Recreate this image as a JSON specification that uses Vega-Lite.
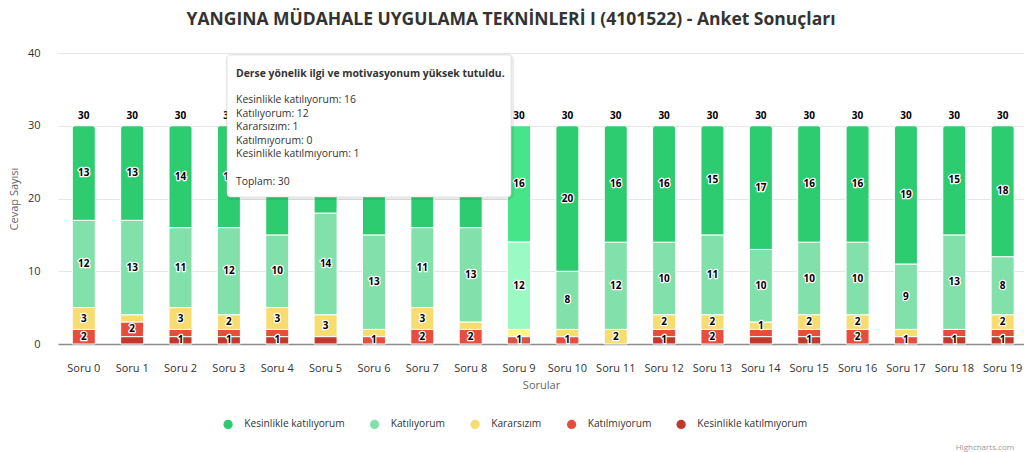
{
  "$schema": "https://vega.github.io/schema/vega-lite/v6.json",
  "width": 966,
  "height": 291,
  "autosize": {"type": "none"},
  "padding": {"left": 58, "top": 53, "right": 0, "bottom": 108},
  "background": "#ffffff",
  "title": {
    "text": "YANGINA MÜDAHALE UYGULAMA TEKNİNLERİ I (4101522) - Anket Sonuçları",
    "font": "Open Sans",
    "fontSize": 17.5,
    "fontWeight": "bold",
    "color": "#333333",
    "anchor": "middle",
    "dx": -30,
    "offset": 19
  },
  "config": {
    "view": {"stroke": null},
    "font": "Open Sans",
    "axisX": {
      "labelAngle": 0,
      "labelFont": "Open Sans",
      "labelFontSize": 11,
      "labelColor": "#333333",
      "labelPadding": 18,
      "ticks": false,
      "tickSize": 0,
      "domainColor": "#8c8c8c",
      "domainWidth": 1.5,
      "grid": false,
      "titleFont": "Open Sans",
      "titleFontSize": 11,
      "titleFontWeight": "normal",
      "titleColor": "#666666",
      "titlePadding": 6
    },
    "axisY": {
      "labelFont": "Open Sans",
      "labelFontSize": 11,
      "labelColor": "#333333",
      "labelPadding": 18,
      "ticks": false,
      "tickSize": 0,
      "domain": false,
      "grid": true,
      "gridColor": "#e6e6e6",
      "gridWidth": 1,
      "titleFont": "Open Sans",
      "titleFontSize": 11,
      "titleFontWeight": "normal",
      "titleColor": "#666666",
      "titlePadding": 8
    },
    "legend": {
      "labelFont": "Open Sans",
      "labelFontSize": 10.2,
      "labelColor": "#333333"
    }
  },
  "datasets": {
    "cevaplar": [
      {"soru": "Soru 0", "kategori": "Kesinlikle katılıyorum", "sira": 5, "sayi": 13, "etiket": true},
      {"soru": "Soru 0", "kategori": "Katılıyorum", "sira": 4, "sayi": 12, "etiket": true},
      {"soru": "Soru 0", "kategori": "Kararsızım", "sira": 3, "sayi": 3, "etiket": true},
      {"soru": "Soru 0", "kategori": "Katılmıyorum", "sira": 2, "sayi": 2, "etiket": true},
      {"soru": "Soru 0", "kategori": "Kesinlikle katılmıyorum", "sira": 1, "sayi": 0, "etiket": false},
      {"soru": "Soru 1", "kategori": "Kesinlikle katılıyorum", "sira": 5, "sayi": 13, "etiket": true},
      {"soru": "Soru 1", "kategori": "Katılıyorum", "sira": 4, "sayi": 13, "etiket": true},
      {"soru": "Soru 1", "kategori": "Kararsızım", "sira": 3, "sayi": 1, "etiket": false},
      {"soru": "Soru 1", "kategori": "Katılmıyorum", "sira": 2, "sayi": 2, "etiket": true},
      {"soru": "Soru 1", "kategori": "Kesinlikle katılmıyorum", "sira": 1, "sayi": 1, "etiket": false},
      {"soru": "Soru 2", "kategori": "Kesinlikle katılıyorum", "sira": 5, "sayi": 14, "etiket": true},
      {"soru": "Soru 2", "kategori": "Katılıyorum", "sira": 4, "sayi": 11, "etiket": true},
      {"soru": "Soru 2", "kategori": "Kararsızım", "sira": 3, "sayi": 3, "etiket": true},
      {"soru": "Soru 2", "kategori": "Katılmıyorum", "sira": 2, "sayi": 1, "etiket": false},
      {"soru": "Soru 2", "kategori": "Kesinlikle katılmıyorum", "sira": 1, "sayi": 1, "etiket": true},
      {"soru": "Soru 3", "kategori": "Kesinlikle katılıyorum", "sira": 5, "sayi": 14, "etiket": true},
      {"soru": "Soru 3", "kategori": "Katılıyorum", "sira": 4, "sayi": 12, "etiket": true},
      {"soru": "Soru 3", "kategori": "Kararsızım", "sira": 3, "sayi": 2, "etiket": true},
      {"soru": "Soru 3", "kategori": "Katılmıyorum", "sira": 2, "sayi": 1, "etiket": false},
      {"soru": "Soru 3", "kategori": "Kesinlikle katılmıyorum", "sira": 1, "sayi": 1, "etiket": true},
      {"soru": "Soru 4", "kategori": "Kesinlikle katılıyorum", "sira": 5, "sayi": 15, "etiket": true},
      {"soru": "Soru 4", "kategori": "Katılıyorum", "sira": 4, "sayi": 10, "etiket": true},
      {"soru": "Soru 4", "kategori": "Kararsızım", "sira": 3, "sayi": 3, "etiket": true},
      {"soru": "Soru 4", "kategori": "Katılmıyorum", "sira": 2, "sayi": 1, "etiket": false},
      {"soru": "Soru 4", "kategori": "Kesinlikle katılmıyorum", "sira": 1, "sayi": 1, "etiket": true},
      {"soru": "Soru 5", "kategori": "Kesinlikle katılıyorum", "sira": 5, "sayi": 12, "etiket": true},
      {"soru": "Soru 5", "kategori": "Katılıyorum", "sira": 4, "sayi": 14, "etiket": true},
      {"soru": "Soru 5", "kategori": "Kararsızım", "sira": 3, "sayi": 3, "etiket": true},
      {"soru": "Soru 5", "kategori": "Katılmıyorum", "sira": 2, "sayi": 0, "etiket": false},
      {"soru": "Soru 5", "kategori": "Kesinlikle katılmıyorum", "sira": 1, "sayi": 1, "etiket": false},
      {"soru": "Soru 6", "kategori": "Kesinlikle katılıyorum", "sira": 5, "sayi": 15, "etiket": true},
      {"soru": "Soru 6", "kategori": "Katılıyorum", "sira": 4, "sayi": 13, "etiket": true},
      {"soru": "Soru 6", "kategori": "Kararsızım", "sira": 3, "sayi": 1, "etiket": false},
      {"soru": "Soru 6", "kategori": "Katılmıyorum", "sira": 2, "sayi": 1, "etiket": true},
      {"soru": "Soru 6", "kategori": "Kesinlikle katılmıyorum", "sira": 1, "sayi": 0, "etiket": false},
      {"soru": "Soru 7", "kategori": "Kesinlikle katılıyorum", "sira": 5, "sayi": 14, "etiket": true},
      {"soru": "Soru 7", "kategori": "Katılıyorum", "sira": 4, "sayi": 11, "etiket": true},
      {"soru": "Soru 7", "kategori": "Kararsızım", "sira": 3, "sayi": 3, "etiket": true},
      {"soru": "Soru 7", "kategori": "Katılmıyorum", "sira": 2, "sayi": 2, "etiket": true},
      {"soru": "Soru 7", "kategori": "Kesinlikle katılmıyorum", "sira": 1, "sayi": 0, "etiket": false},
      {"soru": "Soru 8", "kategori": "Kesinlikle katılıyorum", "sira": 5, "sayi": 14, "etiket": true},
      {"soru": "Soru 8", "kategori": "Katılıyorum", "sira": 4, "sayi": 13, "etiket": true},
      {"soru": "Soru 8", "kategori": "Kararsızım", "sira": 3, "sayi": 1, "etiket": false},
      {"soru": "Soru 8", "kategori": "Katılmıyorum", "sira": 2, "sayi": 2, "etiket": true},
      {"soru": "Soru 8", "kategori": "Kesinlikle katılmıyorum", "sira": 1, "sayi": 0, "etiket": false},
      {"soru": "Soru 9", "kategori": "Kesinlikle katılıyorum", "sira": 5, "sayi": 16, "etiket": true},
      {"soru": "Soru 9", "kategori": "Katılıyorum", "sira": 4, "sayi": 12, "etiket": true},
      {"soru": "Soru 9", "kategori": "Kararsızım", "sira": 3, "sayi": 1, "etiket": false},
      {"soru": "Soru 9", "kategori": "Katılmıyorum", "sira": 2, "sayi": 0, "etiket": false},
      {"soru": "Soru 9", "kategori": "Kesinlikle katılmıyorum", "sira": 1, "sayi": 1, "etiket": true},
      {"soru": "Soru 10", "kategori": "Kesinlikle katılıyorum", "sira": 5, "sayi": 20, "etiket": true},
      {"soru": "Soru 10", "kategori": "Katılıyorum", "sira": 4, "sayi": 8, "etiket": true},
      {"soru": "Soru 10", "kategori": "Kararsızım", "sira": 3, "sayi": 1, "etiket": false},
      {"soru": "Soru 10", "kategori": "Katılmıyorum", "sira": 2, "sayi": 1, "etiket": true},
      {"soru": "Soru 10", "kategori": "Kesinlikle katılmıyorum", "sira": 1, "sayi": 0, "etiket": false},
      {"soru": "Soru 11", "kategori": "Kesinlikle katılıyorum", "sira": 5, "sayi": 16, "etiket": true},
      {"soru": "Soru 11", "kategori": "Katılıyorum", "sira": 4, "sayi": 12, "etiket": true},
      {"soru": "Soru 11", "kategori": "Kararsızım", "sira": 3, "sayi": 2, "etiket": true},
      {"soru": "Soru 11", "kategori": "Katılmıyorum", "sira": 2, "sayi": 0, "etiket": false},
      {"soru": "Soru 11", "kategori": "Kesinlikle katılmıyorum", "sira": 1, "sayi": 0, "etiket": false},
      {"soru": "Soru 12", "kategori": "Kesinlikle katılıyorum", "sira": 5, "sayi": 16, "etiket": true},
      {"soru": "Soru 12", "kategori": "Katılıyorum", "sira": 4, "sayi": 10, "etiket": true},
      {"soru": "Soru 12", "kategori": "Kararsızım", "sira": 3, "sayi": 2, "etiket": true},
      {"soru": "Soru 12", "kategori": "Katılmıyorum", "sira": 2, "sayi": 1, "etiket": false},
      {"soru": "Soru 12", "kategori": "Kesinlikle katılmıyorum", "sira": 1, "sayi": 1, "etiket": true},
      {"soru": "Soru 13", "kategori": "Kesinlikle katılıyorum", "sira": 5, "sayi": 15, "etiket": true},
      {"soru": "Soru 13", "kategori": "Katılıyorum", "sira": 4, "sayi": 11, "etiket": true},
      {"soru": "Soru 13", "kategori": "Kararsızım", "sira": 3, "sayi": 2, "etiket": true},
      {"soru": "Soru 13", "kategori": "Katılmıyorum", "sira": 2, "sayi": 2, "etiket": true},
      {"soru": "Soru 13", "kategori": "Kesinlikle katılmıyorum", "sira": 1, "sayi": 0, "etiket": false},
      {"soru": "Soru 14", "kategori": "Kesinlikle katılıyorum", "sira": 5, "sayi": 17, "etiket": true},
      {"soru": "Soru 14", "kategori": "Katılıyorum", "sira": 4, "sayi": 10, "etiket": true},
      {"soru": "Soru 14", "kategori": "Kararsızım", "sira": 3, "sayi": 1, "etiket": true},
      {"soru": "Soru 14", "kategori": "Katılmıyorum", "sira": 2, "sayi": 1, "etiket": false},
      {"soru": "Soru 14", "kategori": "Kesinlikle katılmıyorum", "sira": 1, "sayi": 1, "etiket": false},
      {"soru": "Soru 15", "kategori": "Kesinlikle katılıyorum", "sira": 5, "sayi": 16, "etiket": true},
      {"soru": "Soru 15", "kategori": "Katılıyorum", "sira": 4, "sayi": 10, "etiket": true},
      {"soru": "Soru 15", "kategori": "Kararsızım", "sira": 3, "sayi": 2, "etiket": true},
      {"soru": "Soru 15", "kategori": "Katılmıyorum", "sira": 2, "sayi": 1, "etiket": false},
      {"soru": "Soru 15", "kategori": "Kesinlikle katılmıyorum", "sira": 1, "sayi": 1, "etiket": true},
      {"soru": "Soru 16", "kategori": "Kesinlikle katılıyorum", "sira": 5, "sayi": 16, "etiket": true},
      {"soru": "Soru 16", "kategori": "Katılıyorum", "sira": 4, "sayi": 10, "etiket": true},
      {"soru": "Soru 16", "kategori": "Kararsızım", "sira": 3, "sayi": 2, "etiket": true},
      {"soru": "Soru 16", "kategori": "Katılmıyorum", "sira": 2, "sayi": 2, "etiket": true},
      {"soru": "Soru 16", "kategori": "Kesinlikle katılmıyorum", "sira": 1, "sayi": 0, "etiket": false},
      {"soru": "Soru 17", "kategori": "Kesinlikle katılıyorum", "sira": 5, "sayi": 19, "etiket": true},
      {"soru": "Soru 17", "kategori": "Katılıyorum", "sira": 4, "sayi": 9, "etiket": true},
      {"soru": "Soru 17", "kategori": "Kararsızım", "sira": 3, "sayi": 1, "etiket": false},
      {"soru": "Soru 17", "kategori": "Katılmıyorum", "sira": 2, "sayi": 1, "etiket": true},
      {"soru": "Soru 17", "kategori": "Kesinlikle katılmıyorum", "sira": 1, "sayi": 0, "etiket": false},
      {"soru": "Soru 18", "kategori": "Kesinlikle katılıyorum", "sira": 5, "sayi": 15, "etiket": true},
      {"soru": "Soru 18", "kategori": "Katılıyorum", "sira": 4, "sayi": 13, "etiket": true},
      {"soru": "Soru 18", "kategori": "Kararsızım", "sira": 3, "sayi": 0, "etiket": false},
      {"soru": "Soru 18", "kategori": "Katılmıyorum", "sira": 2, "sayi": 1, "etiket": false},
      {"soru": "Soru 18", "kategori": "Kesinlikle katılmıyorum", "sira": 1, "sayi": 1, "etiket": true},
      {"soru": "Soru 19", "kategori": "Kesinlikle katılıyorum", "sira": 5, "sayi": 18, "etiket": true},
      {"soru": "Soru 19", "kategori": "Katılıyorum", "sira": 4, "sayi": 8, "etiket": true},
      {"soru": "Soru 19", "kategori": "Kararsızım", "sira": 3, "sayi": 2, "etiket": true},
      {"soru": "Soru 19", "kategori": "Katılmıyorum", "sira": 2, "sayi": 1, "etiket": false},
      {"soru": "Soru 19", "kategori": "Kesinlikle katılmıyorum", "sira": 1, "sayi": 1, "etiket": true}
    ],
    "ipucu": [
      {
        "baslik": "Derse yönelik ilgi ve motivasyonum yüksek tutuldu.",
        "satir1": "Kesinlikle katılıyorum: 16",
        "satir2": "Katılıyorum: 12",
        "satir3": "Kararsızım: 1",
        "satir4": "Katılmıyorum: 0",
        "satir5": "Kesinlikle katılmıyorum: 1",
        "toplam": "Toplam: 30"
      }
    ],
    "kredi": [{"metin": "Highcharts.com"}]
  },
  "layer": [
    {
      "data": {"name": "cevaplar"},
      "transform": [
        {"stack": "sayi", "groupby": ["soru"], "sort": [{"field": "sira", "order": "ascending"}], "as": ["y0", "y1"]},
        {"filter": "datum.sayi > 0 && datum.sira < 5 && datum.soru !== 'Soru 9'"}
      ],
      "mark": {"type": "bar", "stroke": "#ffffff", "strokeWidth": 1},
      "encoding": {
        "x": {
          "field": "soru",
          "type": "nominal",
          "title": "Sorular",
          "scale": {
            "domain": ["Soru 0", "Soru 1", "Soru 2", "Soru 3", "Soru 4", "Soru 5", "Soru 6", "Soru 7", "Soru 8", "Soru 9", "Soru 10", "Soru 11", "Soru 12", "Soru 13", "Soru 14", "Soru 15", "Soru 16", "Soru 17", "Soru 18", "Soru 19"],
            "paddingInner": 0.5244,
            "paddingOuter": 0.2497,
            "align": 0.592
          }
        },
        "y": {
          "field": "y1",
          "type": "quantitative",
          "title": "Cevap Sayısı",
          "scale": {"domain": [0, 40], "nice": false},
          "axis": {"values": [0, 10, 20, 30, 40]}
        },
        "y2": {"field": "y0"},
        "color": {
          "field": "kategori",
          "type": "nominal",
          "scale": {
            "domain": ["Kesinlikle katılıyorum", "Katılıyorum", "Kararsızım", "Katılmıyorum", "Kesinlikle katılmıyorum"],
            "range": ["#2ecc71", "#82e0aa", "#f7dc6f", "#e74c3c", "#c0392b"]
          },
          "legend": {
            "title": null,
            "orient": "none",
            "direction": "horizontal",
            "legendX": 165,
            "legendY": 366,
            "symbolType": "circle",
            "symbolSize": 85,
            "symbolStrokeWidth": 0,
            "labelOffset": 11,
            "columnPadding": 24.5
          }
        }
      }
    },
    {
      "data": {"name": "cevaplar"},
      "transform": [
        {"stack": "sayi", "groupby": ["soru"], "sort": [{"field": "sira", "order": "ascending"}], "as": ["y0", "y1"]},
        {"filter": "datum.sayi > 0 && datum.sira === 5 && datum.soru !== 'Soru 9'"}
      ],
      "mark": {"type": "bar", "stroke": "#ffffff", "strokeWidth": 1, "cornerRadiusTopLeft": 3, "cornerRadiusTopRight": 3},
      "encoding": {
        "x": {"field": "soru", "type": "nominal"},
        "y": {"field": "y1", "type": "quantitative"},
        "y2": {"field": "y0"},
        "color": {"field": "kategori", "type": "nominal"}
      }
    },
    {
      "data": {"name": "cevaplar"},
      "transform": [
        {"stack": "sayi", "groupby": ["soru"], "sort": [{"field": "sira", "order": "ascending"}], "as": ["y0", "y1"]},
        {"filter": "datum.sayi > 0 && datum.soru === 'Soru 9'"}
      ],
      "mark": {"type": "bar", "stroke": "#ffffff", "strokeWidth": 1},
      "encoding": {
        "x": {"field": "soru", "type": "nominal"},
        "y": {"field": "y1", "type": "quantitative"},
        "y2": {"field": "y0"},
        "fill": {
          "field": "kategori",
          "type": "nominal",
          "scale": {
            "domain": ["Kesinlikle katılıyorum", "Katılıyorum", "Kararsızım", "Katılmıyorum", "Kesinlikle katılmıyorum"],
            "range": ["#47e58a", "#9bf9c3", "#fff588", "#ff6555", "#d95244"]
          },
          "legend": null
        }
      }
    },
    {
      "data": {"name": "cevaplar"},
      "transform": [
        {"stack": "sayi", "groupby": ["soru"], "sort": [{"field": "sira", "order": "ascending"}], "as": ["y0", "y1"]},
        {"filter": "datum.etiket && datum.sayi > 0"},
        {"calculate": "(datum.y0 + datum.y1) / 2", "as": "orta"}
      ],
      "mark": {"type": "text", "font": "Open Sans", "fontSize": 10, "fontWeight": "bold", "fill": "#ffffff", "stroke": "#ffffff", "strokeWidth": 2.5, "strokeJoin": "round", "baseline": "middle", "align": "center"},
      "encoding": {
        "x": {"field": "soru", "type": "nominal"},
        "y": {"field": "orta", "type": "quantitative"},
        "text": {"field": "sayi", "type": "quantitative"}
      }
    },
    {
      "data": {"name": "cevaplar"},
      "transform": [
        {"stack": "sayi", "groupby": ["soru"], "sort": [{"field": "sira", "order": "ascending"}], "as": ["y0", "y1"]},
        {"filter": "datum.etiket && datum.sayi > 0"},
        {"calculate": "(datum.y0 + datum.y1) / 2", "as": "orta"}
      ],
      "mark": {"type": "text", "font": "Open Sans", "fontSize": 10, "fontWeight": "bold", "fill": "#000000", "baseline": "middle", "align": "center"},
      "encoding": {
        "x": {"field": "soru", "type": "nominal"},
        "y": {"field": "orta", "type": "quantitative"},
        "text": {"field": "sayi", "type": "quantitative"}
      }
    },
    {
      "data": {"name": "cevaplar"},
      "transform": [
        {"aggregate": [{"op": "sum", "field": "sayi", "as": "toplam"}], "groupby": ["soru"]}
      ],
      "mark": {"type": "text", "font": "Open Sans", "fontSize": 10, "fontWeight": "bold", "fill": "#000000", "baseline": "middle", "align": "center", "dy": -10},
      "encoding": {
        "x": {"field": "soru", "type": "nominal"},
        "y": {"field": "toplam", "type": "quantitative"},
        "text": {"field": "toplam", "type": "quantitative"}
      }
    },
    {
      "data": {"name": "ipucu"},
      "mark": {"type": "rect", "cornerRadius": 4, "fill": null, "stroke": "#000000", "strokeOpacity": 0.08, "strokeWidth": 4, "xOffset": 1, "x2Offset": 1, "yOffset": 1, "y2Offset": 1},
      "encoding": {
        "x": {"datum": "Soru 3", "type": "nominal", "bandPosition": 0.42},
        "x2": {"datum": "Soru 9", "bandPosition": 0.15},
        "y": {"datum": 39.725, "type": "quantitative"},
        "y2": {"datum": 20.21}
      }
    },
    {
      "data": {"name": "ipucu"},
      "mark": {"type": "rect", "cornerRadius": 3, "fill": "#ffffff", "stroke": "#d9d9d9", "strokeWidth": 0.6},
      "encoding": {
        "x": {"datum": "Soru 3", "type": "nominal", "bandPosition": 0.42},
        "x2": {"datum": "Soru 9", "bandPosition": 0.15},
        "y": {"datum": 39.725, "type": "quantitative"},
        "y2": {"datum": 20.21}
      }
    },
    {
      "data": {"name": "ipucu"},
      "mark": {"type": "text", "font": "Open Sans", "fontSize": 10.4, "fontWeight": "bold", "fill": "#333333", "align": "left", "baseline": "alphabetic", "dx": 9, "dy": 22},
      "encoding": {
        "x": {"datum": "Soru 3", "type": "nominal", "bandPosition": 0.42},
        "y": {"datum": 39.725, "type": "quantitative"},
        "text": {"field": "baslik", "type": "nominal"}
      }
    },
    {
      "data": {"name": "ipucu"},
      "mark": {"type": "text", "font": "Open Sans", "fontSize": 10.4, "fill": "#333333", "align": "left", "baseline": "alphabetic", "dx": 9, "dy": 48},
      "encoding": {
        "x": {"datum": "Soru 3", "type": "nominal", "bandPosition": 0.42},
        "y": {"datum": 39.725, "type": "quantitative"},
        "text": {"field": "satir1", "type": "nominal"}
      }
    },
    {
      "data": {"name": "ipucu"},
      "mark": {"type": "text", "font": "Open Sans", "fontSize": 10.4, "fill": "#333333", "align": "left", "baseline": "alphabetic", "dx": 9, "dy": 61.6},
      "encoding": {
        "x": {"datum": "Soru 3", "type": "nominal", "bandPosition": 0.42},
        "y": {"datum": 39.725, "type": "quantitative"},
        "text": {"field": "satir2", "type": "nominal"}
      }
    },
    {
      "data": {"name": "ipucu"},
      "mark": {"type": "text", "font": "Open Sans", "fontSize": 10.4, "fill": "#333333", "align": "left", "baseline": "alphabetic", "dx": 9, "dy": 75.2},
      "encoding": {
        "x": {"datum": "Soru 3", "type": "nominal", "bandPosition": 0.42},
        "y": {"datum": 39.725, "type": "quantitative"},
        "text": {"field": "satir3", "type": "nominal"}
      }
    },
    {
      "data": {"name": "ipucu"},
      "mark": {"type": "text", "font": "Open Sans", "fontSize": 10.4, "fill": "#333333", "align": "left", "baseline": "alphabetic", "dx": 9, "dy": 88.8},
      "encoding": {
        "x": {"datum": "Soru 3", "type": "nominal", "bandPosition": 0.42},
        "y": {"datum": 39.725, "type": "quantitative"},
        "text": {"field": "satir4", "type": "nominal"}
      }
    },
    {
      "data": {"name": "ipucu"},
      "mark": {"type": "text", "font": "Open Sans", "fontSize": 10.4, "fill": "#333333", "align": "left", "baseline": "alphabetic", "dx": 9, "dy": 102.4},
      "encoding": {
        "x": {"datum": "Soru 3", "type": "nominal", "bandPosition": 0.42},
        "y": {"datum": 39.725, "type": "quantitative"},
        "text": {"field": "satir5", "type": "nominal"}
      }
    },
    {
      "data": {"name": "ipucu"},
      "mark": {"type": "text", "font": "Open Sans", "fontSize": 10.4, "fill": "#333333", "align": "left", "baseline": "alphabetic", "dx": 9, "dy": 130},
      "encoding": {
        "x": {"datum": "Soru 3", "type": "nominal", "bandPosition": 0.42},
        "y": {"datum": 39.725, "type": "quantitative"},
        "text": {"field": "toplam", "type": "nominal"}
      }
    },
    {
      "data": {"name": "kredi"},
      "mark": {"type": "text", "font": "Open Sans", "fontSize": 8, "fill": "#999999", "align": "right", "baseline": "alphabetic"},
      "encoding": {
        "x": {"datum": "Soru 19", "type": "nominal", "bandPosition": 1},
        "y": {"datum": -14.6, "type": "quantitative"},
        "text": {"field": "metin", "type": "nominal"}
      }
    }
  ]
}
